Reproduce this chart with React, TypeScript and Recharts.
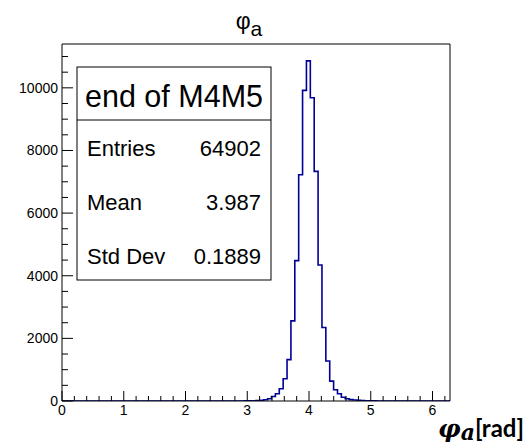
import React from 'react';
import { LineChart, Line, XAxis, YAxis, ReferenceLine } from 'recharts';

// Histogram definition: 100 bins over [0, 2π]
const nBins = 100;
const xMin = 0;
const xMax = 2 * Math.PI;
const yMax = 11400;

// Bin contents
const binCounts: number[] = [
  0, 0, 0, 0, 0, 0, 0, 0, 0, 0,
  0, 0, 0, 0, 0, 0, 0, 0, 0, 0,
  0, 0, 0, 0, 0, 0, 0, 0, 0, 0,
  0, 0, 0, 0, 0, 0, 0, 0, 0, 0,
  0, 0, 0, 0, 0, 0, 2, 3, 5, 8,
  15, 25, 40, 70, 144, 230, 390, 711, 1320, 2558,
  4481, 7227, 9920, 10860, 9685, 7333, 4343, 2346, 1275, 635,
  359, 230, 122, 70, 45, 30, 20, 12, 8, 5,
  3, 2, 0, 0, 0, 0, 0, 0, 0, 0,
  0, 0, 0, 0, 0, 0, 0, 0, 0, 0,
];

const xMajorTicks = [0, 1, 2, 3, 4, 5, 6];
const xMinorTicks = [
  0.2, 0.4, 0.6, 0.8, 1.2, 1.4, 1.6, 1.8, 2.2, 2.4, 2.6, 2.8,
  3.2, 3.4, 3.6, 3.8, 4.2, 4.4, 4.6, 4.8, 5.2, 5.4, 5.6, 5.8, 6.2,
];
const yMajorTicks = [0, 2000, 4000, 6000, 8000, 10000];
const yMinorTicks = [
  500, 1000, 1500, 2500, 3000, 3500, 4500, 5000, 5500, 6500, 7000, 7500,
  8500, 9000, 9500, 10500, 11000,
];

const histTitle = 'φ';
const histTitleSub = 'a';
const statsTitle = 'end of M4M5';
const statsLabels = ['Entries', 'Mean', 'Std Dev'];
const statsValues = ['64902', '3.987', '0.1889'];
const xLabelSymbol = 'φ';
const xLabelSub = 'a';
const xLabelUnit = '[rad]';

const binWidth = (xMax - xMin) / nBins;
const histData = binCounts
  .map((c, i) => ({ x: xMin + i * binWidth, y: c }))
  .concat([{ x: xMax, y: binCounts[nBins - 1] }]);

const FONT = "'Liberation Sans', Arial, Helvetica, sans-serif";
const LINE_COLOR = '#000099';

const isMajor = (list: number[], v: number) => list.some((m) => Math.abs(m - v) < 1e-6);

const XTick = (props: any) => {
  const { x, y, payload } = props;
  const v = payload.value;
  const major = isMajor(xMajorTicks, v);
  return (
    <g>
      <line x1={x} x2={x} y1={y} y2={y - (major ? 10 : 5)} stroke="#000" strokeWidth={1} />
      {major && (
        <text x={x} y={y + 14} textAnchor="middle" fontSize={14} fontFamily={FONT} fill="#000">
          {String(v)}
        </text>
      )}
    </g>
  );
};

const YTick = (props: any) => {
  const { x, y, payload } = props;
  const v = payload.value;
  const major = isMajor(yMajorTicks, v);
  return (
    <g>
      <line x1={x} x2={x + (major ? 11 : 6)} y1={y} y2={y} stroke="#000" strokeWidth={1} />
      {major && (
        <text x={x - 4} y={y + 5} textAnchor="end" fontSize={14} fontFamily={FONT} fill="#000">
          {String(v)}
        </text>
      )}
    </g>
  );
};

export default function App() {
  const allX = [...xMajorTicks, ...xMinorTicks].sort((a, b) => a - b);
  const allY = [...yMajorTicks, ...yMinorTicks].sort((a, b) => a - b);
  return (
    <div style={{ position: 'absolute', left: 0, top: 0, width: 531, height: 445, background: '#fff' }}>
      <LineChart
        width={531}
        height={445}
        data={histData}
        margin={{ top: 44, right: 81, bottom: 43, left: 61 }}
      >
        <XAxis
          type="number"
          dataKey="x"
          domain={[xMin, xMax]}
          ticks={allX}
          interval={0}
          height={1}
          tickSize={0}
          tickMargin={0}
          tickLine={false}
          tick={<XTick />}
          axisLine={{ stroke: '#000', strokeWidth: 1 }}
          allowDataOverflow
        />
        <YAxis
          type="number"
          domain={[0, yMax]}
          ticks={allY}
          interval={0}
          width={1}
          tickSize={0}
          tickMargin={0}
          tickLine={false}
          tick={<YTick />}
          axisLine={{ stroke: '#000', strokeWidth: 1 }}
          allowDataOverflow
        />
        <ReferenceLine y={yMax} stroke="#000" strokeWidth={1} />
        <ReferenceLine x={xMax} stroke="#000" strokeWidth={1} />
        <Line
          type="stepAfter"
          dataKey="y"
          stroke={LINE_COLOR}
          strokeWidth={1.6}
          dot={false}
          activeDot={false}
          isAnimationActive={false}
        />
      </LineChart>
      <svg
        width={531}
        height={445}
        style={{ position: 'absolute', left: 0, top: 0, pointerEvents: 'none' }}
      >
        <text x={249} y={29} textAnchor="middle" fontFamily={FONT} fontSize={23} fill="#000">
          {histTitle}
          <tspan fontSize={21} dy={7}>{histTitleSub}</tspan>
        </text>
        <rect x={77} y={67} width={194} height={213} fill="#fff" stroke="#000" strokeWidth={1} />
        <line x1={77} x2={271} y1={120} y2={120} stroke="#000" strokeWidth={1} />
        <text x={174} y={107} textAnchor="middle" fontFamily={FONT} fontSize={30.5} fill="#000">
          {statsTitle}
        </text>
        {statsLabels.map((lab, i) => (
          <g key={lab}>
            <text x={87} y={156 + i * 54} fontFamily={FONT} fontSize={22} fill="#000">
              {lab}
            </text>
            <text x={261} y={156 + i * 54} textAnchor="end" fontFamily={FONT} fontSize={22} fill="#000">
              {statsValues[i]}
            </text>
          </g>
        ))}
        <text x={524} y={437} textAnchor="end" fill="#000">
          <tspan fontFamily="'DejaVu Serif', serif" fontStyle="italic" fontWeight="bold" fontSize={25}>
            {xLabelSymbol}
          </tspan>
          <tspan fontFamily="'DejaVu Serif', serif" fontStyle="italic" fontWeight="bold" fontSize={22} dy={3}>
            {xLabelSub}
          </tspan>
          <tspan fontFamily="Lato, 'Open Sans', sans-serif" fontWeight="bold" fontSize={24} dy={-3}>
            {xLabelUnit}
          </tspan>
        </text>
      </svg>
    </div>
  );
}
